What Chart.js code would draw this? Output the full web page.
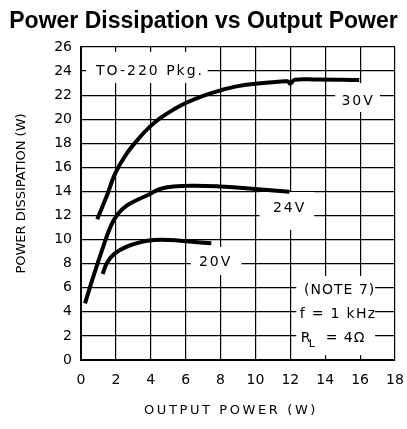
<!DOCTYPE html>
<html lang="en">

<head>
    <meta charset="UTF-8">
    <title>Power Dissipation vs Output Power</title>
    <script src="https://cdn.jsdelivr.net/npm/chart.js"></script>
    <style>
        body {
            margin: 0;
            padding: 0;
            background-color: #ffffff;
            overflow: hidden;
        }

        .wrap {
            position: relative;
            width: 407px;
            height: 429px;
        }
    </style>
</head>

<body>
    <div class="wrap">
        <canvas id="dissipationChart"></canvas>
    </div>

    <script>
        // Curve samples: output power (W) and power dissipation (W)
        const v30Out = [0.93, 1.47, 1.96, 2.6, 3.37, 4.0, 4.6, 5.3, 6.0, 7.0, 8.0, 9.0, 10.0, 11.0, 11.85, 12.0, 12.25, 13.5, 15.0, 15.95];
        const v30Diss = [11.7, 13.6, 15.5, 17.1, 18.5, 19.45, 20.15, 20.8, 21.35, 21.95, 22.4, 22.75, 22.95, 23.08, 23.15, 22.95, 23.28, 23.3, 23.28, 23.25];

        const v24Out = [0.23, 0.7, 1.27, 1.7, 2.1, 2.6, 3.3, 3.9, 4.5, 5.3, 6.5, 7.9, 9.1, 10.5, 11.95];
        const v24Diss = [4.7, 6.9, 9.4, 11.1, 12.1, 12.8, 13.35, 13.75, 14.2, 14.42, 14.48, 14.42, 14.3, 14.15, 13.98];

        const v20Out = [1.24, 1.5, 1.94, 2.6, 3.37, 4.2, 5.1, 6.2, 7.47];
        const v20Diss = [7.14, 8.1, 8.86, 9.4, 9.77, 9.96, 9.96, 9.84, 9.7];

        const xTicks = [0, 2, 4, 6, 8, 10, 12, 14, 16, 18];
        const yTicks = [0, 2, 4, 6, 8, 10, 12, 14, 16, 18, 20, 22, 24, 26];

        const tickFont = { family: 'DejaVu Sans', size: 14 };

        function toPoints(xs, ys) {
            return xs.map((x, i) => ({ x: x, y: ys[i] }));
        }

        function curve(label, xs, ys) {
            return {
                label: label,
                data: toPoints(xs, ys),
                borderColor: '#000000',
                borderWidth: 4,
                borderCapStyle: 'butt',
                pointRadius: 0,
                tension: 0.4,
                fill: false
            };
        }

        // white boxes that blank the grid behind the text labels (in data units)
        const labelBoxes = [
            { x0: 0.29, x1: 7.26, y0: 23.0, y1: 25.6 },
            { x0: 14.57, x1: 17.14, y0: 20.6, y1: 23.0 },
            { x0: 10.23, x1: 13.37, y0: 10.8, y1: 13.95 },
            { x0: 6.29, x1: 9.2, y0: 7.06, y1: 9.39 },
            { x0: 12.34, x1: 16.86, y0: 0.4, y1: 6.98 }
        ];

        const labelTexts = [
            { text: 'TO-220 Pkg.', x: 3.9, y: 24.0, spacing: 2 },
            { text: '30V', x: 15.83, y: 21.5, spacing: 2 },
            { text: '24V', x: 11.9, y: 12.6, spacing: 2 },
            { text: '20V', x: 7.66, y: 8.14, spacing: 2 },
            { text: '(NOTE 7)', x: 14.8, y: 5.81, spacing: 1 },
            { text: 'f = 1 kHz', x: 14.7, y: 3.82, spacing: 1.3 }
        ];

        const notesPlugin = {
            id: 'notes',
            beforeDatasetsDraw(chart) {
                const { ctx, scales: { x, y } } = chart;
                ctx.save();
                ctx.fillStyle = '#ffffff';
                labelBoxes.forEach(b => {
                    const left = x.getPixelForValue(b.x0);
                    const right = x.getPixelForValue(b.x1);
                    const top = y.getPixelForValue(b.y1);
                    const bottom = y.getPixelForValue(b.y0);
                    ctx.fillRect(left, top, right - left, bottom - top);
                });
                ctx.restore();
            },
            afterDraw(chart) {
                const { ctx, chartArea, scales: { x, y } } = chart;
                ctx.save();
                ctx.fillStyle = '#000000';
                ctx.textAlign = 'center';
                ctx.textBaseline = 'middle';
                ctx.font = '14px "DejaVu Sans"';
                labelTexts.forEach(t => {
                    ctx.letterSpacing = t.spacing + 'px';
                    ctx.fillText(t.text, x.getPixelForValue(t.x) + t.spacing / 2, y.getPixelForValue(t.y));
                });

                // R with subscript L
                const rx = x.getPixelForValue(12.6);
                const ry = y.getPixelForValue(1.83);
                ctx.textAlign = 'left';
                ctx.letterSpacing = '0px';
                ctx.fillText('R', rx, ry);
                ctx.font = '11px "DejaVu Sans"';
                ctx.fillText('L', rx + 8, ry + 6);
                ctx.font = '14px "DejaVu Sans"';
                ctx.fillText('=', rx + 25, ry);
                ctx.letterSpacing = '1px';
                ctx.fillText('4\u03A9', rx + 43, ry);

                // axis titles
                ctx.font = '13px "DejaVu Sans"';
                ctx.textAlign = 'center';
                ctx.letterSpacing = '2.6px';
                ctx.fillText('OUTPUT POWER (W)', (chartArea.left + chartArea.right) / 2 - 7, chartArea.bottom + 51);

                ctx.letterSpacing = '0px';
                ctx.translate(22, (chartArea.top + chartArea.bottom) / 2 - 10);
                ctx.rotate(-Math.PI / 2);
                ctx.fillText('POWER DISSIPATION (W)', 0, 0);
                ctx.restore();
            }
        };

        new Chart(document.getElementById('dissipationChart'), {
            type: 'line',
            data: {
                datasets: [
                    curve('30V', v30Out, v30Diss),
                    curve('24V', v24Out, v24Diss),
                    curve('20V', v20Out, v20Diss)
                ]
            },
            options: {
                responsive: true,
                maintainAspectRatio: false,
                animation: false,
                layout: {
                    padding: 0
                },
                plugins: {
                    legend: { display: false },
                    tooltip: { enabled: false },
                    title: {
                        display: true,
                        text: 'Power Dissipation vs Output Power',
                        color: '#000000',
                        font: { family: 'Liberation Sans', size: 23, weight: 'bold', lineHeight: 1.2 },
                        padding: { top: 8, bottom: 11.4 }
                    }
                },
                scales: {
                    x: {
                        type: 'linear',
                        min: 0,
                        max: 18,
                        afterBuildTicks: axis => { axis.ticks = xTicks.map(v => ({ value: v })); },
                        afterFit: axis => {
                            axis.height = 69;
                            axis.paddingRight = 12;
                        },
                        grid: { color: '#000000', lineWidth: 1.2, drawTicks: false },
                        border: { color: '#000000', width: 2 },
                        ticks: { color: '#000000', font: tickFont, padding: 12, maxRotation: 0 }
                    },
                    y: {
                        type: 'linear',
                        min: 0,
                        max: 26,
                        afterBuildTicks: axis => { axis.ticks = yTicks.map(v => ({ value: v })); },
                        afterFit: axis => { axis.width = 81; },
                        grid: { color: '#000000', lineWidth: 1.2, drawTicks: false },
                        border: { color: '#000000', width: 2 },
                        ticks: { color: '#000000', font: tickFont, padding: 9 }
                    }
                }
            },
            plugins: [notesPlugin]
        });
    </script>
</body>

</html>
